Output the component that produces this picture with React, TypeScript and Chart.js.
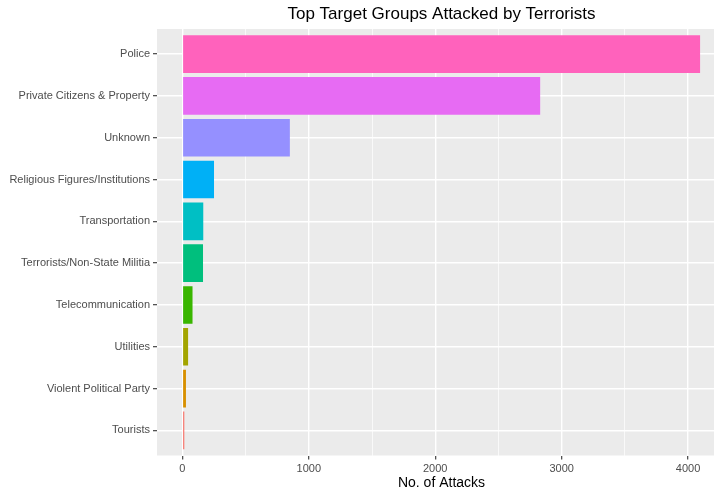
import React, { useEffect, useRef } from "react";
import { Chart, registerables } from "chart.js";

Chart.register(...registerables);

const categories = [
  "Police",
  "Private Citizens & Property",
  "Unknown",
  "Religious Figures/Institutions",
  "Transportation",
  "Terrorists/Non-State Militia",
  "Telecommunication",
  "Utilities",
  "Violent Political Party",
  "Tourists",
];
const attacks = [4095, 2830, 850, 250, 165, 163, 80, 45, 28, 15];
const barColors = [
  "#FF62BC",
  "#E76BF3",
  "#9590FF",
  "#00B0F6",
  "#00BFC4",
  "#00BF7D",
  "#39B600",
  "#A3A500",
  "#D89000",
  "#F8766D",
];
const xTicks = [0, 500, 1000, 1500, 2000, 2500, 3000, 3500, 4000];

const FONT = "'Liberation Sans', Arial, sans-serif";

const panelBg = {
  id: "panelBg",
  beforeDraw(chart: any) {
    const { ctx, chartArea } = chart;
    ctx.save();
    ctx.fillStyle = "#EBEBEB";
    ctx.fillRect(chartArea.left, chartArea.top, chartArea.right - chartArea.left, chartArea.bottom - chartArea.top);
    ctx.restore();
  },
};

export default function App() {
  const ref = useRef<HTMLCanvasElement>(null);
  useEffect(() => {
    if (!ref.current) return;
    const chart = new Chart(ref.current, {
      type: "bar",
      data: {
        datasets: [
          {
            data: attacks.map((v, i) => ({ x: v, y: i + 1 })),
            backgroundColor: barColors,
            borderWidth: 0,
            categoryPercentage: 0.9,
            barPercentage: 1,
          },
        ],
      },
      plugins: [panelBg],
      options: {
        indexAxis: "y",
        responsive: false,
        animation: false,
        layout: { padding: 0 },
        plugins: {
          legend: { display: false },
          tooltip: { enabled: false },
          title: {
            display: true,
            text: "Top Target Groups Attacked by Terrorists",
            color: "#000000",
            fullSize: false,
            font: { family: FONT, size: 17, weight: "normal", lineHeight: 1.2 },
            padding: { top: 4, bottom: 4.6 },
          },
        },
        scales: {
          x: {
            type: "linear",
            min: -201,
            max: 4300,
            offset: false,
            border: { display: false },
            afterBuildTicks: (scale: any) => {
              scale.ticks = xTicks.map((v) => ({ value: v }));
            },
            afterFit: (scale: any) => {
              scale.height = 37.5;
            },
            grid: {
              offset: false,
              color: "#FFFFFF",
              lineWidth: (ctx: any) => (ctx.tick && ctx.tick.value % 1000 === 0 ? 1.4 : 0.7),
              tickColor: (ctx: any) => (ctx.tick && ctx.tick.value % 1000 === 0 ? "#333333" : "rgba(0,0,0,0)"),
              tickLength: 4,
              tickWidth: 1.1,
            },
            ticks: {
              color: "#4D4D4D",
              font: { family: FONT, size: 11 },
              padding: 3,
              maxRotation: 0,
              autoSkip: false,
              callback: (v: any) => (Number(v) % 1000 === 0 ? String(v) : ""),
            },
            title: {
              display: true,
              text: "No. of Attacks",
              color: "#000000",
              font: { family: FONT, size: 14, lineHeight: 1.2 },
              padding: { top: 0, bottom: 1.6 },
            },
          },
          y: {
            type: "linear",
            min: 0.4,
            max: 10.6,
            reverse: true,
            offset: false,
            border: { display: false },
            afterBuildTicks: (scale: any) => {
              scale.ticks = categories.map((_, i) => ({ value: i + 1 }));
            },
            afterFit: (scale: any) => {
              scale.width = 157;
            },
            grid: {
              offset: false,
              color: "#FFFFFF",
              lineWidth: 1.4,
              tickColor: "#333333",
              tickLength: 4,
              tickWidth: 1.1,
            },
            ticks: {
              color: "#4D4D4D",
              font: { family: FONT, size: 11 },
              padding: 3,
              autoSkip: false,
              callback: (v: any) => categories[Math.round(Number(v)) - 1] ?? "",
            },
          },
        },
      },
    } as any);
    return () => chart.destroy();
  }, []);
  return (
    <div style={{ position: "fixed", left: 0, top: 0, width: 714, height: 493, overflow: "hidden", background: "#FFFFFF" }}>
      <canvas ref={ref} width={726} height={493} style={{ display: "block" }} />
    </div>
  );
}
